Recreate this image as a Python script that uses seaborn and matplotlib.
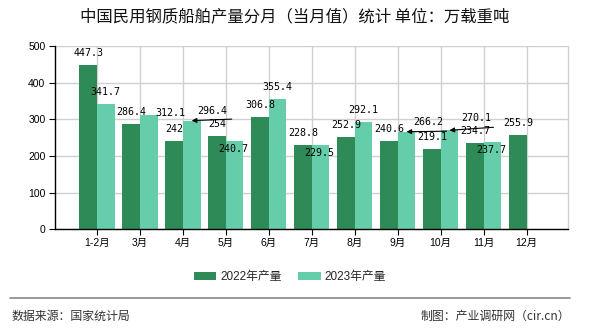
import numpy as np
import pandas as pd
import matplotlib
matplotlib.use("Agg")
import matplotlib.pyplot as plt
import seaborn as sns
from matplotlib.lines import Line2D
from matplotlib.patches import Patch

# ---- data ----
months = ["1-2月", "3月", "4月", "5月", "6月", "7月", "8月", "9月", "10月", "11月", "12月"]
series_names = ["2022年产量", "2023年产量"]
prod_2022 = [447.3, 286.4, 242, 254, 306.8, 228.8, 252.9, 240.6, 219.1, 234.7, 255.9]
prod_2023 = [341.7, 312.1, 296.4, 240.7, 355.4, 229.5, 292.1, 266.2, 270.1, 237.7, np.nan]
y_ticks = [0, 100, 200, 300, 400, 500]
title = "中国民用钢质船舶产量分月（当月值）统计 单位：万载重吨"
source_text = "数据来源：国家统计局"
credit_text = "制图：产业调研网（cir.cn）"

colors = ["#2e8b57", "#66cdaa"]

sns.set_theme(style="ticks")
plt.rcParams["font.family"] = ["Liberation Sans", "Noto Sans CJK SC", "DejaVu Sans"]

df = pd.DataFrame({
    "month": months * 2,
    "series": [series_names[0]] * len(months) + [series_names[1]] * len(months),
    "value": prod_2022 + prod_2023,
})

W, H = 590, 330
fig = plt.figure(figsize=(W / 100, H / 100), dpi=100)
ax = fig.add_axes([55.3 / W, (H - 229.3) / H, (568.3 - 55.3) / W, (229.3 - 46) / H])

sns.barplot(data=df, x="month", y="value", hue="series", order=months,
            hue_order=series_names, palette=colors, width=0.82,
            saturation=1, ax=ax, legend=False, linewidth=0, edgecolor="none")

ax.set_xlim(-0.97, 10.97)
ax.set_ylim(0, 500)
ax.set_yticks(y_ticks)
ax.set_xlabel("")
ax.set_ylabel("")
ax.grid(True, color="#d0d0d0", lw=1)
ax.set_axisbelow(True)
for s in ["left", "bottom"]:
    ax.spines[s].set_color("black")
    ax.spines[s].set_linewidth(1)
ax.spines["top"].set_visible(False)
ax.spines["right"].set_color("#d0d0d0")
ax.spines["right"].set_linewidth(1)
ax.tick_params(axis="both", direction="out", length=4.3, width=0.8, color="black",
               labelsize=7.5, labelcolor="black", left=True, bottom=True)
ax.tick_params(axis="y", pad=2.8)
ax.tick_params(axis="x", pad=2.0)

# ---- data labels ----
default_off = (0, 12)
label_off = {
    (1, 1): (22, 2),
    (1, 2): (21, 9.5),
    (1, 3): (-1.5, -8),
    (1, 5): (-1, -8),
    (1, 7): (22, 10),
    (1, 8): (27, 12),
    (1, 9): (-1, -8),
}
leader = {
    (1, 2): (40, 1.5),
    (1, 7): (40, 0.5),
    (1, 8): (44, 3),
}

series_vals = [prod_2022, prod_2023]
for si, cont in enumerate(ax.containers):
    for bar in cont:
        h = bar.get_height()
        if h is None or np.isnan(h) or h == 0:
            continue
        xc = bar.get_x() + bar.get_width() / 2
        ci = int(round(xc))
        val = series_vals[si][ci]
        txt = f"{val:g}"
        dx, dy = label_off.get((si, ci), default_off)
        ax.annotate(txt, xy=(xc, h), xytext=(dx, dy), textcoords="offset pixels",
                    ha="center", va="center", fontsize=7.2,
                    family=["DejaVu Sans Mono"], color="black")
        if (si, ci) in leader:
            lx, ly = leader[(si, ci)]
            ax.annotate("", xy=(xc, h), xytext=(lx, ly), textcoords="offset pixels",
                        arrowprops=dict(arrowstyle="-|>", color="black", lw=0.8,
                                        mutation_scale=7, shrinkA=0, shrinkB=0))

# ---- title ----
fig.text(0.5, 1 - 16.7 / H, title, ha="center", va="center", fontsize=11.8,
         family=["Noto Sans CJK SC", "DejaVu Sans"], color="#111111")

# ---- legend ----
handles = [Patch(facecolor=c, edgecolor="none") for c in colors]
fig.legend(handles, series_names, loc="center", bbox_to_anchor=(290 / W, 1 - 277 / H),
           ncol=2, frameon=False, fontsize=8.5, handlelength=1.9, handleheight=0.75,
           handletextpad=0.35, columnspacing=1.4)

# ---- footer ----
fig.add_artist(Line2D([10 / W, 570 / W], [1 - 298.3 / H] * 2, color="#888888", lw=1.2))
fig.text(12 / W, 1 - 316 / H, source_text, ha="left", va="center", fontsize=8.6,
         family=["Noto Sans CJK SC", "DejaVu Sans"], color="#333333")
fig.text(570 / W, 1 - 316 / H, credit_text, ha="right", va="center", fontsize=8.6,
         family=["Noto Sans CJK SC", "DejaVu Sans"], color="#333333")

fig.savefig("out.png", dpi=100)
